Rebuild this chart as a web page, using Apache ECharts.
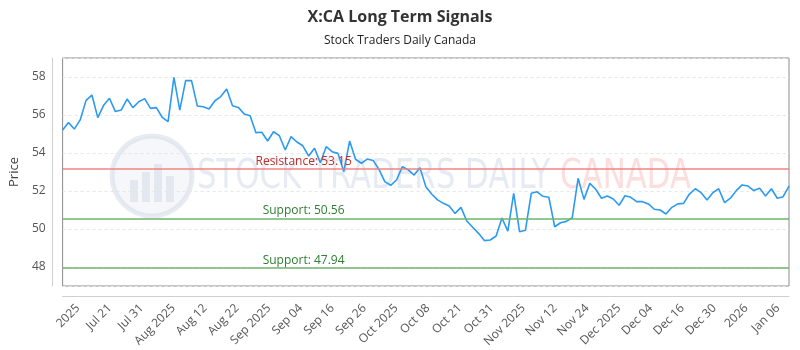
<!DOCTYPE html>
<html>
<head>
<meta charset="utf-8">
<script src="https://cdn.jsdelivr.net/npm/echarts@6/dist/echarts.min.js"></script>
<style>
  html, body { margin: 0; padding: 0; background: #fff; }
  #chart { width: 800px; height: 350px; }
</style>
</head>
<body>
<div id="chart"></div>
<script>
// trading days shown on the chart
const dates = [
  "2025-07-09", "2025-07-10", "2025-07-11", "2025-07-14", "2025-07-15", "2025-07-16", "2025-07-17", "2025-07-18",
  "2025-07-21", "2025-07-22", "2025-07-23", "2025-07-24", "2025-07-25", "2025-07-28", "2025-07-29", "2025-07-30", "2025-07-31",
  "2025-08-01", "2025-08-05", "2025-08-06", "2025-08-07", "2025-08-08", "2025-08-11", "2025-08-12", "2025-08-13", "2025-08-14",
  "2025-08-15", "2025-08-18", "2025-08-19", "2025-08-20", "2025-08-21", "2025-08-22", "2025-08-25", "2025-08-26", "2025-08-27",
  "2025-08-28", "2025-08-29",
  "2025-09-02", "2025-09-03", "2025-09-04", "2025-09-05", "2025-09-08", "2025-09-09", "2025-09-10", "2025-09-11", "2025-09-12",
  "2025-09-15", "2025-09-16", "2025-09-17", "2025-09-18", "2025-09-19", "2025-09-22", "2025-09-23", "2025-09-24", "2025-09-25",
  "2025-09-26", "2025-09-29", "2025-09-30",
  "2025-10-01", "2025-10-02", "2025-10-03", "2025-10-06", "2025-10-07", "2025-10-08", "2025-10-09", "2025-10-10", "2025-10-14",
  "2025-10-15", "2025-10-16", "2025-10-17", "2025-10-20", "2025-10-21", "2025-10-22", "2025-10-23", "2025-10-24", "2025-10-27",
  "2025-10-28", "2025-10-29", "2025-10-30", "2025-10-31",
  "2025-11-03", "2025-11-04", "2025-11-05", "2025-11-06", "2025-11-07", "2025-11-10", "2025-11-11", "2025-11-12", "2025-11-13",
  "2025-11-14", "2025-11-17", "2025-11-18", "2025-11-19", "2025-11-20", "2025-11-21", "2025-11-24", "2025-11-25", "2025-11-26",
  "2025-11-27", "2025-11-28",
  "2025-12-01", "2025-12-02", "2025-12-03", "2025-12-04", "2025-12-05", "2025-12-08", "2025-12-09", "2025-12-10", "2025-12-11",
  "2025-12-12", "2025-12-15", "2025-12-16", "2025-12-17", "2025-12-18", "2025-12-19", "2025-12-22", "2025-12-23", "2025-12-24",
  "2025-12-29", "2025-12-30", "2025-12-31",
  "2026-01-02", "2026-01-05", "2026-01-06", "2026-01-07"
];

const prices = [
  55.21, 55.60, 55.26, 55.74, 56.77, 57.05, 55.86, 56.51, 56.88, 56.18, 56.26, 56.84, 56.39, 56.70, 56.86, 56.35, 56.39, 55.88, 55.65, 57.98, 56.26, 57.81, 57.81, 56.47, 56.43,
  56.32, 56.75, 56.97, 57.37, 56.49, 56.40, 56.05, 55.96, 55.07, 55.09, 54.63, 55.12, 54.91, 54.16, 54.86, 54.58, 54.38, 53.84, 54.25, 53.49, 54.33, 54.07, 53.98, 53.02, 54.63,
  53.67, 53.46, 53.68, 53.61, 53.14, 52.49, 52.30, 52.58, 53.28, 53.11, 52.84, 53.23, 52.23, 51.84, 51.53, 51.35, 51.21, 50.82, 51.14, 50.42, 50.09, 49.77, 49.39, 49.42, 49.63,
  50.58, 49.89, 51.88, 49.86, 49.93, 51.88, 51.96, 51.72, 51.67, 50.12, 50.33, 50.40, 50.60, 52.67, 51.56, 52.40, 52.09, 51.62, 51.74, 51.58, 51.25, 51.75, 51.67, 51.44, 51.44,
  51.32, 51.04, 51.00, 50.79, 51.14, 51.32, 51.35, 51.84, 52.12, 51.91, 51.53, 51.91, 52.12, 51.39, 51.62, 52.02, 52.32, 52.26, 52.02, 52.14, 51.74, 52.12, 51.62, 51.70, 52.26
];

const tickLabels = [
  "2025", "Jul 21", "Jul 31", "Aug 2025", "Aug 12", "Aug 22", "Sep 2025", "Sep 04", "Sep 16", "Sep 26", "Oct 2025",
  "Oct 08", "Oct 21", "Oct 31", "Nov 2025", "Nov 12", "Nov 24", "Dec 2025", "Dec 04", "Dec 16", "Dec 30", "2026", "Jan 06"
];

const levelNames = ["Resistance", "Support", "Support"];
const levelValues = [53.15, 50.56, 47.94];

const levelLine = { Resistance: "rgba(240,125,120,0.7)", Support: "rgba(110,180,110,0.75)" };
const levelText = { Resistance: "#b8322b", Support: "#2f7d32" };

const chart = echarts.init(document.getElementById("chart"));

chart.setOption({
  animation: false,
  textStyle: { fontFamily: "Open Sans" },
  title: {
    text: "X:CA Long Term Signals",
    subtext: "Stock Traders Daily Canada",
    left: "center",
    top: 4,
    itemGap: 10,
    textStyle: { fontSize: 16, fontWeight: "bold", color: "#333", fontFamily: "Open Sans" },
    subtextStyle: { fontSize: 12, color: "#222", fontFamily: "Open Sans" }
  },
  graphic: [
    {
      type: "group",
      silent: true,
      z: -1,
      children: [
        {
          type: "circle",
          shape: { cx: 152, cy: 176, r: 40 },
          style: { fill: "rgba(236,240,246,0.5)", stroke: "rgba(215,222,234,0.6)", lineWidth: 5 }
        },
        { type: "rect", shape: { x: 130, y: 180, width: 8, height: 22 }, style: { fill: "rgba(215,222,234,0.6)" } },
        { type: "rect", shape: { x: 142, y: 172, width: 8, height: 30 }, style: { fill: "rgba(215,222,234,0.6)" } },
        { type: "rect", shape: { x: 154, y: 164, width: 8, height: 38 }, style: { fill: "rgba(215,222,234,0.6)" } },
        { type: "rect", shape: { x: 166, y: 176, width: 8, height: 26 }, style: { fill: "rgba(215,222,234,0.6)" } },
        {
          type: "text",
          x: 197,
          y: 178,
          scaleX: 0.77,
          style: {
            text: "{a|STOCK TRADERS DAILY }{b|CANADA}",
            verticalAlign: "middle",
            rich: {
              a: { fontSize: 40, fontFamily: "DejaVu Sans", fill: "rgba(214,222,235,0.62)" },
              b: { fontSize: 40, fontFamily: "DejaVu Sans", fill: "rgba(250,200,200,0.6)" }
            }
          }
        }
      ]
    }
  ],
  grid: [
    { left: 61, right: 11, top: 58, bottom: 64, show: true, borderColor: "#8a8a8a", borderWidth: 1 },
    { left: 78, right: 22, top: 58, bottom: 64, show: false }
  ],
  xAxis: [
    {
      type: "category",
      gridIndex: 0,
      data: dates,
      boundaryGap: false,
      offset: 10,
      axisLine: { lineStyle: { color: "#cfcfcf" } },
      axisTick: { show: false },
      axisLabel: { show: false },
      splitLine: { show: false }
    },
    {
      type: "category",
      gridIndex: 1,
      data: tickLabels,
      boundaryGap: false,
      offset: 10,
      axisLine: { show: false },
      axisTick: { show: false },
      axisLabel: { interval: 0, rotate: 45, margin: 12, fontSize: 12, color: "#555", fontFamily: "Open Sans" },
      splitLine: { show: false }
    }
  ],
  yAxis: [
    {
      type: "value",
      gridIndex: 0,
      min: 47,
      max: 59,
      splitNumber: 6,
      offset: 10,
      name: "Price",
      nameLocation: "middle",
      nameGap: 28,
      nameTextStyle: { fontSize: 13, color: "#444", fontFamily: "Open Sans" },
      axisLine: { show: true, lineStyle: { color: "#cfcfcf" } },
      axisTick: { show: false },
      axisLabel: { showMinLabel: false, showMaxLabel: false, margin: 7, fontSize: 12, color: "#555", fontFamily: "Open Sans" },
      splitLine: { lineStyle: { color: "#e6e6e6", type: [3, 3] } }
    },
    { type: "value", gridIndex: 1, show: false }
  ],
  series: [
    {
      type: "line",
      xAxisIndex: 0,
      yAxisIndex: 0,
      data: prices,
      showSymbol: false,
      lineStyle: { color: "#2b9af3", width: 1.6 },
      itemStyle: { color: "#2b9af3" },
      markLine: {
        silent: true,
        symbol: "none",
        data: levelValues.map((v, i) => ({
          yAxis: v,
          lineStyle: { color: levelLine[levelNames[i]], width: 2, type: "solid" },
          label: {
            show: true,
            formatter: levelNames[i] + ": " + v.toFixed(2),
            position: "insideStartTop",
            distance: [241, 2],
            align: "center",
            fontSize: 12,
            fontFamily: "Open Sans",
            color: levelText[levelNames[i]]
          }
        }))
      }
    }
  ]
});
</script>
</body>
</html>
